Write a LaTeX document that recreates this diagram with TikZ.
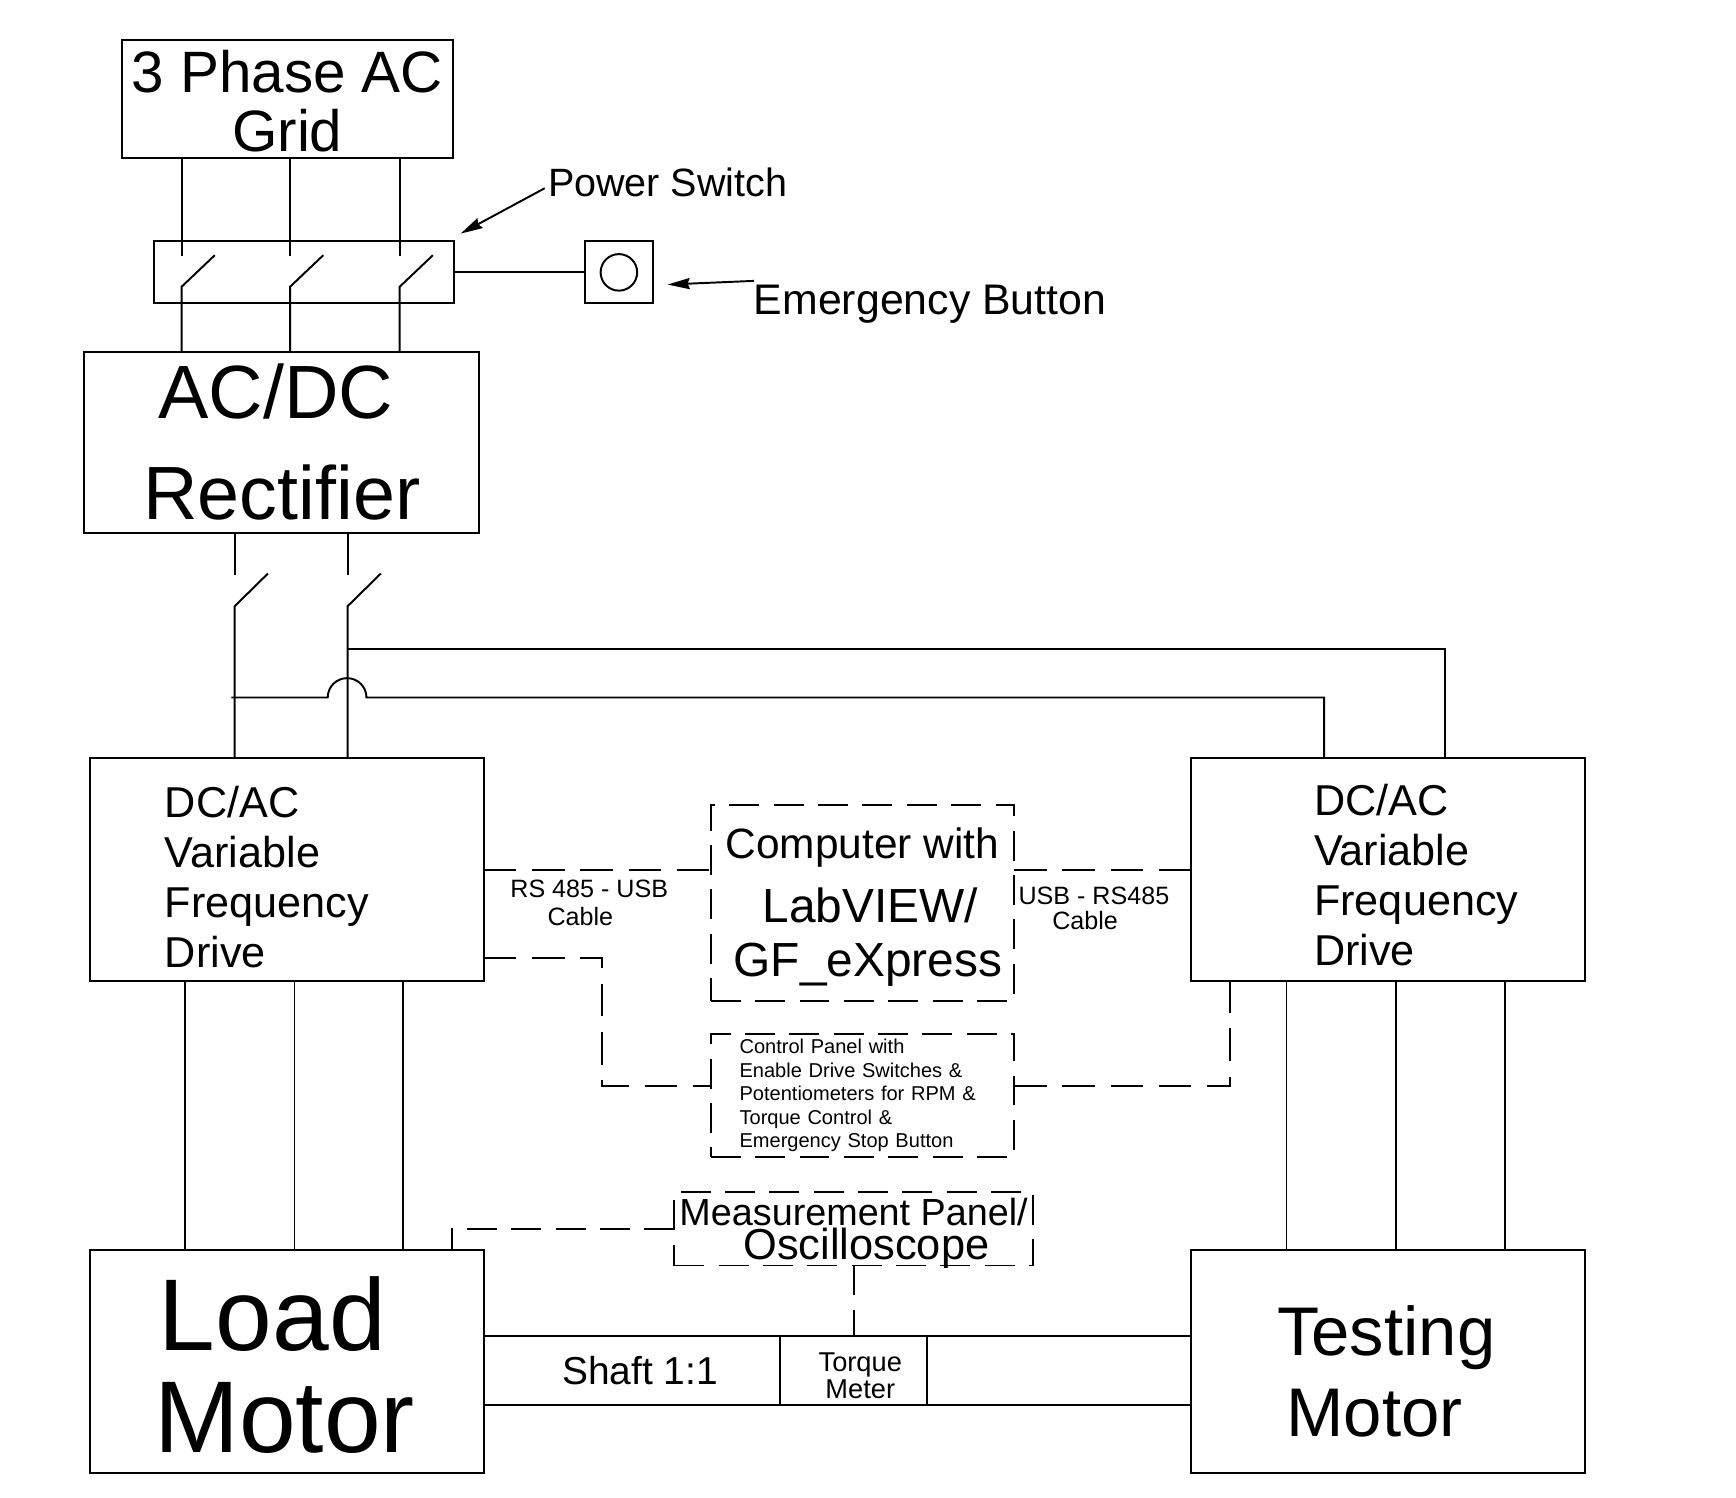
\documentclass[tikz,border=0pt]{standalone}
\usepackage{fontspec}
\setmainfont{Liberation Sans}
\usetikzlibrary{arrows.meta, positioning}

\newcommand{\fsz}[2]{\fontsize{#1pt}{#2pt}\selectfont}

\begin{document}
\begin{tikzpicture}[
    line width=0.5pt,
    box/.style={
        draw,
        rectangle,
        inner sep=0pt,
        outer sep=0pt,
        align=center
    },
    plain/.style={inner sep=0pt, outer sep=0pt, align=center},
    dashline/.style={dash pattern=on 7.7pt off 3.7pt},
    dashlink/.style={dash pattern=on 8.35pt off 4.05pt},
    dashbox/.style={box, dashline},
    pointer/.style={-{Stealth[length=0.2cm, width=0.1cm, inset=0.02cm]}},
    drivebox/.style={box, minimum width=3.56cm, minimum height=2.01cm},
    drivetextL/.style={align=left, inner xsep=0.68cm, text width=2.2cm, font=\fsz{11.1}{12.9}},
    drivetextR/.style={align=left, inner xsep=0.55cm, text width=2.46cm, font=\fsz{11.1}{12.9}}
]
\useasboundingbox (0,0) rectangle (15.68,-13.53);

% === Supply ===
\node[box, minimum width=2.99cm, minimum height=1.07cm, font=\fsz{15}{15.1}] (grid) at (2.595,-0.895) {\rule{0pt}{11.9pt}3 Phase AC\\Grid};
\node[box, below=0.75cm of grid, xshift=0.15cm, minimum width=2.71cm, minimum height=0.56cm] (powerswitch) {};
\node[box, below=0.44cm of powerswitch, xshift=-0.2cm, minimum width=3.57cm, minimum height=1.63cm, font=\fsz{19.4}{25.9}] (rectifier) {\hspace*{-0.11cm}AC/DC\\Rectifier};

% === Emergency Button ===
\node[box, right=1.18cm of powerswitch, minimum width=0.62cm, minimum height=0.56cm] (button) {};
\node[draw, circle, inner sep=0pt, minimum size=0.33cm] (buttonlamp) at (button) {};

% === Drives and Motors ===
\node[drivebox, drivetextL, below=2.04cm of rectifier, xshift=0.045cm] (driveL) {\rule{0pt}{11.8pt}DC/AC\\Variable\\Frequency\\Drive};
\node[drivebox, drivetextR, right=6.39cm of driveL] (driveR) {\hspace*{0.56cm}\rule{0pt}{10.9pt}DC/AC\\\hspace*{0.56cm}Variable\\\hspace*{0.56cm}Frequency\\\hspace*{0.56cm}Drive};
\node[drivebox, below=2.43cm of driveL, font=\fsz{26.2}{26.2}] (loadmotor) {\rule{0pt}{21.1pt}\hspace*{-0.26cm}Load\\\hspace*{-0.04cm}Motor};
\node[drivebox, below=2.43cm of driveR, font=\fsz{17.7}{20.8}] (testmotor) {\rule{0pt}{18pt}\hspace*{-0.04cm}Testing\\\hspace*{-0.25cm}Motor};

% === Centre Panels ===
\node[dashbox, right=2.05cm of driveL, yshift=-0.3cm, minimum width=2.74cm, minimum height=1.77cm, font=\fsz{12.3}{13.7}] (computer) {\rule{0pt}{10pt}\fsz{10.9}{13.7}Computer with\\[2.8pt]\hspace*{0.14cm}LabVIEW/\\\hspace*{0.1cm}GF\_eXpress};
\node[dashbox, below=0.3cm of computer, minimum width=2.74cm, minimum height=1.11cm, align=left, inner xsep=0.26cm, text width=2.22cm, font=\fsz{5.15}{6.03}] (control) {Control Panel with\\Enable Drive Switches \&\\Potentiometers for RPM \&\\Torque Control \&\\Emergency Stop Button};
\node[dashbox, below=0.32cm of control, xshift=-0.08cm, minimum width=3.24cm, minimum height=0.66cm, font=\fsz{9.7}{8.8}] (measure) {Measurement Panel/\\\hspace*{0.23cm}\smash{\fontsize{11.15pt}{8.8pt}\selectfont Oscilloscope}};
\node[box, below=0.64cm of measure, minimum width=1.33cm, minimum height=0.62cm, font=\fsz{7}{7.1}] (torque) {\rule{0pt}{7.4pt}\hspace*{0.12cm}Torque\\\hspace*{0.12cm}Meter};

% === Labels ===
\node[plain, right=0.86cm of grid.south east, yshift=-0.22cm, font=\fsz{10.15}{12}] (powerlabel) {Power Switch};
\coordinate[above=0.07cm of powerswitch.north east, xshift=0.06cm] (powertip);
\coordinate[right=0.13cm of button.east, yshift=-0.11cm] (buttontip);
\node[plain, right=0.78cm of buttontip, yshift=-0.18cm, font=\fsz{11}{13}] (buttonlabel) {Emergency Button};
\node[plain, left=0.56cm of torque, font=\fsz{10}{12}] (shaftlabel) {Shaft 1:1};
\node[plain, right=0.24cm of driveL.east, yshift=-0.3cm, font=\fsz{6.45}{7.1}] (rslabelL) {RS 485 - USB\\\hspace*{-0.16cm}Cable};
\node[plain, right=0.04cm of computer.east, yshift=-0.05cm, font=\fsz{6.45}{6.3}] (rslabelR) {USB - RS485\\\hspace*{-0.16cm}Cable};

% ============ COORDINATES ============

\coordinate[right=0.25cm of powerswitch.north west, yshift=-0.13cm] (poleA);
\coordinate[right=1.23cm of powerswitch.north west, yshift=-0.13cm] (poleB);
\coordinate[right=2.22cm of powerswitch.north west, yshift=-0.13cm] (poleC);
\coordinate[below=0.28cm of poleA] (poleAlow);
\coordinate[below=0.28cm of poleB] (poleBlow);
\coordinate[below=0.28cm of poleC] (poleClow);

\coordinate (dcpos) at (2.12,-5.19);
\coordinate (dcneg) at (3.14,-5.19);
\coordinate[below=0.285cm of dcpos] (dcposlow);
\coordinate[below=0.285cm of dcneg] (dcneglow);
\coordinate (bustop) at (3.14,-5.86);
\coordinate (busbot) at (2.09,-6.3);
\coordinate[right=2.29cm of driveR.north west] (feedtop);
\coordinate[right=1.2cm of driveR.north west] (feedbot);

\coordinate[right=0.86cm of driveL.south west] (leftU);
\coordinate[right=1.85cm of driveL.south west] (leftV);
\coordinate[right=2.83cm of driveL.south west] (leftW);
\coordinate[right=0.86cm of driveR.south west] (rightU);
\coordinate[right=1.85cm of driveR.south west] (rightV);
\coordinate[right=2.83cm of driveR.south west] (rightW);

\coordinate[above=0.21cm of driveL.south east] (tapL);
\coordinate[right=0.35cm of driveR.south west] (tapR);
\coordinate[above=0.085cm of control.west] (controlW);
\coordinate[above=0.085cm of control.east] (controlE);
\coordinate[left=0.29cm of loadmotor.north east] (tapmotor);

% ============ ARROWS ============

% Grid to power switch
\draw (grid.south -| poleA) -- (poleA);
\draw (grid.south -| poleB) -- (poleB);
\draw (grid.south -| poleC) -- (poleC);
\draw (poleAlow |- rectifier.north) -- (poleAlow) -- ++(0.3,0.285);
\draw (poleBlow |- rectifier.north) -- (poleBlow) -- ++(0.3,0.285);
\draw (poleClow |- rectifier.north) -- (poleClow) -- ++(0.3,0.285);

% Emergency button
\draw (powerswitch.east) -- (button.west);
\draw[pointer] (powerlabel.west) ++(-0.03,-0.05) -- (powertip);
\draw[pointer] (buttonlabel.north west) ++(0,0.04) -- (buttontip);

% DC bus
\draw (dcpos |- rectifier.south) -- (dcpos);
\draw (dcneg |- rectifier.south) -- (dcneg);
\draw (dcposlow |- driveL.north) -- (dcposlow) -- ++(0.3,0.295);
\draw (dcneglow |- driveL.north) -- (dcneglow) -- ++(0.3,0.295);
\draw (bustop) -| (feedtop);
\draw (busbot) -- ++(0.87,0) arc[start angle=180, end angle=0, radius=0.175] -| (feedbot);

% Drives to motors
\draw (leftU) -- (leftU |- loadmotor.north);
\draw (leftV) -- (leftV |- loadmotor.north);
\draw (leftW) -- (leftW |- loadmotor.north);
\draw (rightU) -- (rightU |- testmotor.north);
\draw (rightV) -- (rightV |- testmotor.north);
\draw (rightW) -- (rightW |- testmotor.north);

% Shaft
\draw (torque.north west -| loadmotor.east) -- (torque.north west);
\draw (torque.south west -| loadmotor.east) -- (torque.south west);
\draw (torque.north east) -- (torque.north east -| testmotor.west);
\draw (torque.south east) -- (torque.south east -| testmotor.west);

% Dashed links
\draw[dashlink] (driveL.east) -- (driveL.east -| computer.west);
\draw[dashlink] (computer.east |- driveR.west) -- (driveR.west);
\draw[dashlink] (tapL) -- ++(1.07,0) |- (controlW);
\draw[dashlink] (controlE) -| (tapR);
\draw[dashline] (measure.west) -| (tapmotor);
\draw[dashline] (measure.south) -- (torque.north);

\end{tikzpicture}
\end{document}
